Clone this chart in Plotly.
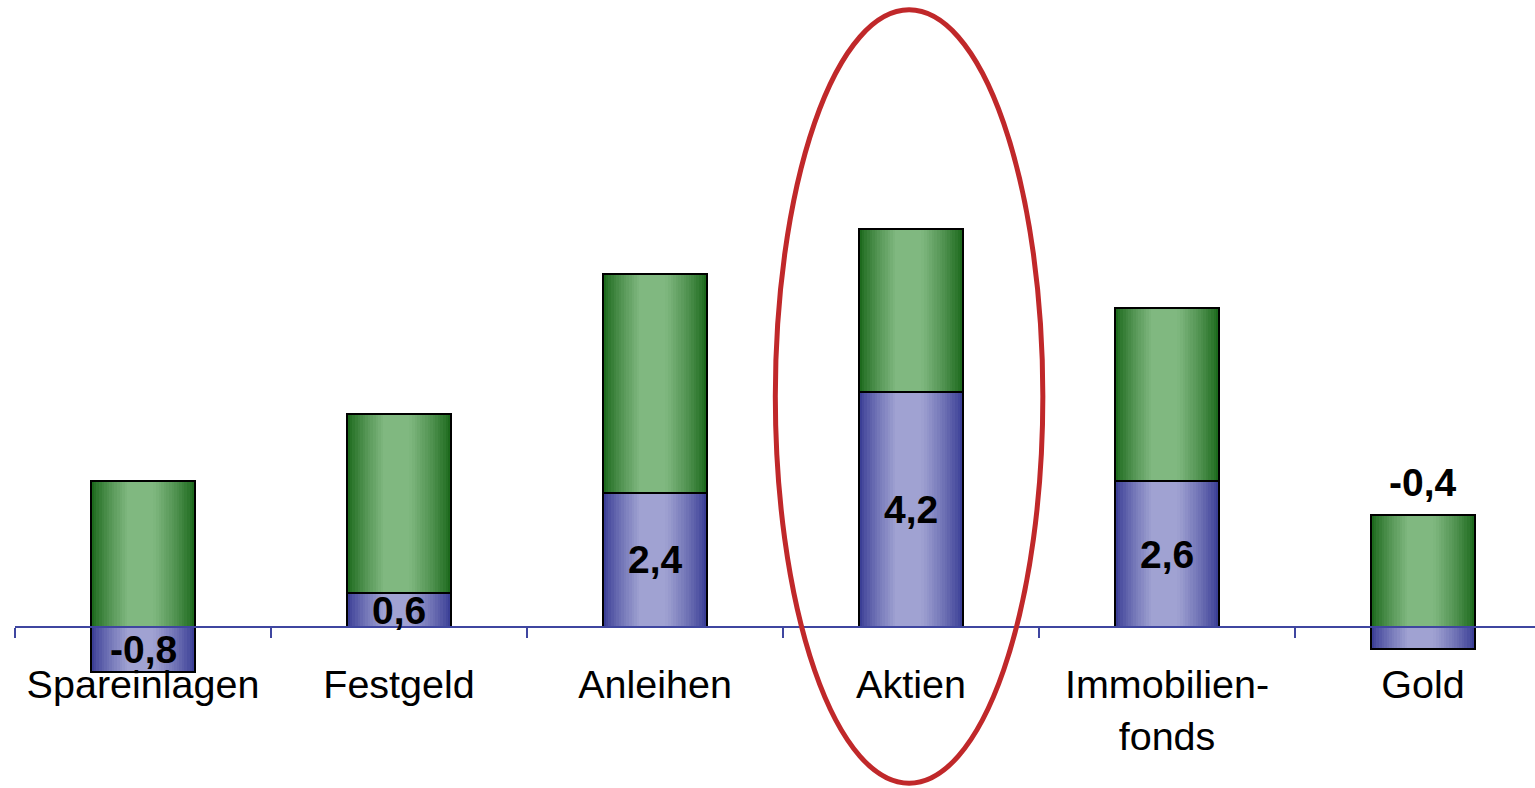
import plotly.graph_objects as go

# Asset classes and their return components (percent p.a.)
categories = ["Spareinlagen", "Festgeld", "Anleihen", "Aktien", "Immobilien-<br>fonds", "Gold"]
real_return = [-0.8, 0.6, 2.4, 4.2, 2.6, -0.4]        # blue segment, labelled
nominal_addon = [2.6, 3.2, 3.9, 2.9, 3.1, 2.0]         # green segment stacked above
label_above = [False, False, False, False, False, True]

BAR_W = 0.405
N_STRIPS = 40

GREEN_DARK = (22, 100, 22)
GREEN_LIGHT = (128, 184, 128)
BLUE_DARK = (52, 56, 146)
BLUE_LIGHT = (160, 162, 210)

FONT = "Liberation Sans, Arial"


def shade(t):
    """Horizontal lightness profile of a bar: dark edges, light band left of centre."""
    if t < 0.36:
        s = t / 0.36
    elif t < 0.6:
        s = 1.0
    else:
        s = max(0.0, 1 - (t - 0.6) / 0.4)
    return s ** 0.8


def mix(c0, c1, s):
    return "rgb({},{},{})".format(*[round(a + (b - a) * s) for a, b in zip(c0, c1)])


blue_base = [0.0] * len(categories)
green_base = [max(v, 0.0) for v in real_return]

fig = go.Figure()

# Gradient fill: each segment is built from narrow overlaid strips
for seg_y, seg_base, dark, light in [
    (real_return, blue_base, BLUE_DARK, BLUE_LIGHT),
    (nominal_addon, green_base, GREEN_DARK, GREEN_LIGHT),
]:
    sw = BAR_W / N_STRIPS
    for i in range(N_STRIPS):
        t = (i + 0.5) / N_STRIPS
        fig.add_trace(go.Bar(
            x=categories, y=seg_y, base=seg_base,
            width=sw * 1.08, offset=-BAR_W / 2 + i * sw,
            marker=dict(color=mix(dark, light, shade(t)), line=dict(width=0)),
            hoverinfo="skip", showlegend=False,
        ))

# Black outlines around each segment
for seg_y, seg_base in [(real_return, blue_base), (nominal_addon, green_base)]:
    fig.add_trace(go.Bar(
        x=categories, y=seg_y, base=seg_base, width=BAR_W,
        marker=dict(color="rgba(0,0,0,0)", line=dict(color="black", width=2)),
        hoverinfo="skip", showlegend=False,
    ))

# Value labels
for cat, v, g, above in zip(categories, real_return, nominal_addon, label_above):
    txt = f"{v:.1f}".replace(".", ",")
    if above:
        fig.add_annotation(x=cat, y=max(v, 0) + g, text=f"<b>{txt}</b>", showarrow=False,
                           yanchor="bottom", yshift=9,
                           font=dict(family=FONT, size=39, color="black"))
    else:
        fig.add_annotation(x=cat, y=v / 2, text=f"<b>{txt}</b>", showarrow=False,
                           yanchor="middle", yshift=0,
                           font=dict(family=FONT, size=39, color="black"))

y_min, y_max = -2.875, 11.196
zero_pos = -y_min / (y_max - y_min)

# Highlight ring around the equity column
fig.add_shape(type="circle", xref="x", yref="y",
              x0=2.47, x1=3.515, y0=-2.79, y1=11.02,
              line=dict(color="#c0282a", width=5), fillcolor="rgba(0,0,0,0)")

fig.update_layout(
    width=1535, height=788,
    margin=dict(l=15, r=0, t=0, b=0),
    paper_bgcolor="white", plot_bgcolor="white",
    barmode="overlay", bargap=0,
    showlegend=False,
    xaxis=dict(
        type="category", range=[-0.5, 5.4375],
        anchor="free", position=zero_pos,
        showline=True, linecolor="#3f46a0", linewidth=2,
        ticks="outside", tickson="boundaries", ticklen=10, tickwidth=2, tickcolor="#3f46a0",
        ticklabelstandoff=23,
        showgrid=False, zeroline=False,
        tickfont=dict(family=FONT, size=39.5, color="black"),
    ),
    yaxis=dict(range=[y_min, y_max], visible=False, showgrid=False, zeroline=False),
)

fig.write_html("out.html")
